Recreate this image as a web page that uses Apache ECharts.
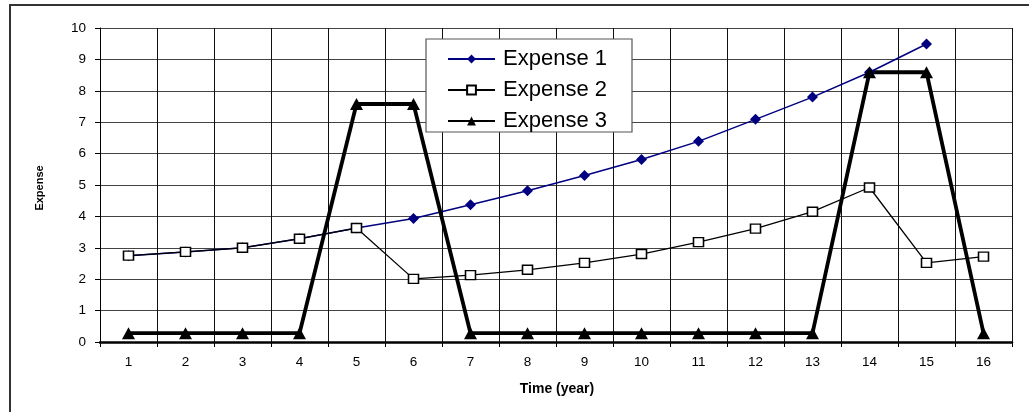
<!DOCTYPE html>
<html>
<head>
<meta charset="utf-8">
<script src="https://cdn.jsdelivr.net/npm/echarts@6/dist/echarts.min.js"></script>
<style>
html,body{margin:0;padding:0;background:#fff;}
#chart{width:1029px;height:412px;}
</style>
</head>
<body>
<div id="chart"></div>
<script>
var categories = ['1','2','3','4','5','6','7','8','9','10','11','12','13','14','15','16'];
var expense1 = [2.75, 2.87, 3.0, 3.29, 3.63, 3.93, 4.37, 4.82, 5.3, 5.81, 6.39, 7.09, 7.8, 8.59, 9.49, null];
var expense2 = [2.75, 2.87, 3.0, 3.29, 3.63, 2.01, 2.13, 2.3, 2.52, 2.8, 3.18, 3.61, 4.15, 4.92, 2.52, 2.72];
var expense3 = [0.28, 0.28, 0.28, 0.28, 7.58, 7.58, 0.28, 0.28, 0.28, 0.28, 0.28, 0.28, 0.28, 8.59, 8.59, 0.28];
var yTicks = [0, 10, 1];

var chart = echarts.init(document.getElementById('chart'));
var font = 'Liberation Sans, Arial, sans-serif';
chart.setOption({
  animation: false,
  backgroundColor: '#fff',
  grid: {left: 100, right: 17, top: 28, bottom: 70, containLabel: false},
  graphic: [
    {type: 'rect', z: 0, shape: {x: 10, y: 5, width: 1040, height: 430},
      style: {fill: 'none', stroke: '#333', lineWidth: 2}},
    {type: 'rect', z: 100, shape: {x: 426, y: 39, width: 206, height: 93},
      style: {fill: '#fff', stroke: '#555', lineWidth: 1.2}},
    {type: 'text', z: 100, x: 557, y: 389,
      style: {text: 'Time (year)', font: 'bold 14px ' + font, fill: '#000', textAlign: 'center', textVerticalAlign: 'middle'}},
    {type: 'text', z: 100, x: 40, y: 188, rotation: Math.PI / 2,
      style: {text: 'Expense', font: 'bold 11px ' + font, fill: '#000', textAlign: 'center', textVerticalAlign: 'middle'}}
  ],
  legend: {
    orient: 'vertical', left: 442, top: 43, z: 110,
    itemWidth: 47, itemHeight: 11, itemGap: 9,
    textStyle: {fontFamily: font, fontSize: 22, lineHeight: 22, color: '#000', padding: [0, 0, 0, 3]},
    data: ['Expense 1', 'Expense 2', 'Expense 3']
  },
  xAxis: {
    type: 'category', data: categories, boundaryGap: true,
    axisLine: {lineStyle: {color: '#000', width: 2.5}},
    axisTick: {show: true, inside: false, length: 5, lineStyle: {color: '#000'}},
    axisLabel: {fontFamily: font, fontSize: 13.5, color: '#000', margin: 13},
    splitLine: {show: true, lineStyle: {color: '#111', width: 1}}
  },
  yAxis: {
    type: 'value', min: yTicks[0], max: yTicks[1], interval: yTicks[2],
    axisLine: {show: true, lineStyle: {color: '#000', width: 1}},
    axisTick: {show: true, inside: false, length: 5, lineStyle: {color: '#000'}},
    axisLabel: {fontFamily: font, fontSize: 13.5, color: '#000', margin: 14},
    splitLine: {show: true, lineStyle: {color: '#444', width: 1}}
  },
  series: [
    {name: 'Expense 1', type: 'line', data: expense1, connectNulls: false,
      symbol: 'diamond', symbolSize: [11, 11],
      lineStyle: {color: '#000080', width: 1.5},
      itemStyle: {color: '#000080'}},
    {name: 'Expense 2', type: 'line', data: expense2,
      symbol: 'rect', symbolSize: [10, 9],
      lineStyle: {color: '#000', width: 1.3},
      itemStyle: {color: '#fff', borderColor: '#000', borderWidth: 1.5}},
    {name: 'Expense 3', type: 'line', data: expense3,
      symbol: 'triangle', symbolSize: [13, 12],
      lineStyle: {color: '#000', width: 3.8},
      itemStyle: {color: '#000'}}
  ]
});
</script>
</body>
</html>
